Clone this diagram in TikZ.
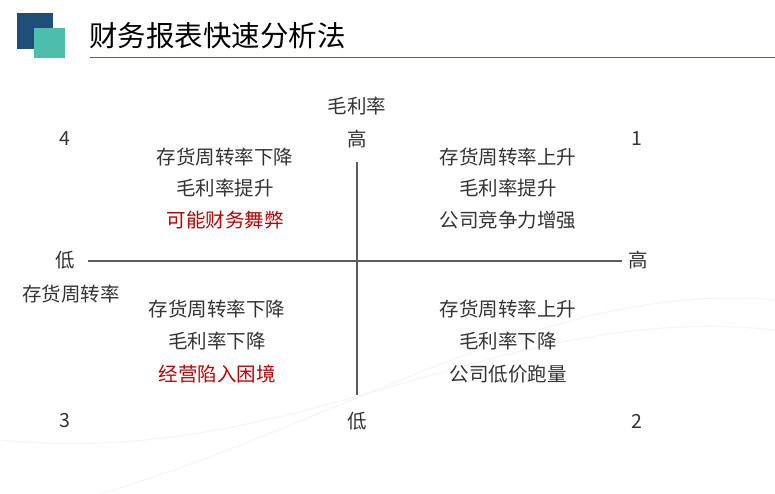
\documentclass[tikz,border=0pt]{standalone}
\usepackage{fontspec}
\newfontfamily\cjk{Noto Sans CJK SC}
\definecolor{dk}{HTML}{1F4E79}
\definecolor{tl}{HTML}{4DBDAC}
\definecolor{tx}{HTML}{333333}
\definecolor{rd}{HTML}{C00000}
\begin{document}
\begin{tikzpicture}[x=1pt,y=-1pt,
  lbl/.style={font=\cjk\fontsize{19.5}{22}\selectfont,text=tx,inner sep=0pt},
  red/.style={lbl,text=rd},
  ax/.style={draw=tx!80,line width=2pt}]
\useasboundingbox (0,0) rectangle (775,494);
\fill[white] (0,0) rectangle (775,494);
\fill[dk] (17,13) rectangle (53,49);
\fill[tl] (34,28) rectangle (65,58);
\node[anchor=west,inner sep=0pt,font=\cjk\fontsize{28.5}{30}\selectfont,text=black] (title) at (89,36) {财务报表快速分析法};
\draw[color=dk!50!gray,line width=1pt] (90,58) -- (775,58);
\draw[gray!8,line width=1pt] (0,440) .. controls (300,470) and (500,300) .. (775,330);
\draw[gray!8,line width=1pt] (100,494) .. controls (350,420) and (550,280) .. (775,300);
\coordinate (L) at (88,261); \coordinate (R) at (622,261);
\coordinate (T) at (357,162); \coordinate (B) at (357,395);
\draw[ax] (L) -- (R); \draw[ax] (T) -- (B);
\node[lbl] (ylab) at (357,106) {毛利率};
\node[lbl] (yhi) at (357,139) {高};
\node[lbl] (ylo) at (357,421) {低};
\node[lbl] (xlo) at (65,260) {低};
\node[lbl] (xlab) at (71,294) {存货周转率};
\node[lbl] (xhi) at (638,260) {高};
\node[lbl] (n4) at (65,139) {4};
\node[lbl] (n1) at (637,139) {1};
\node[lbl] (n3) at (65,421) {3};
\node[lbl] (n2) at (637,421) {2};
\node[lbl] (a1) at (225,157) {存货周转率下降};
\node[lbl] (a2) at (225,188) {毛利率提升};
\node[red] (a3) at (225,220) {可能财务舞弊};
\node[lbl] (b1) at (508,157) {存货周转率上升};
\node[lbl] (b2) at (508,188) {毛利率提升};
\node[lbl] (b3) at (508,220) {公司竞争力增强};
\node[lbl] (c1) at (217,309) {存货周转率下降};
\node[lbl] (c2) at (217,341) {毛利率下降};
\node[red] (c3) at (217,374) {经营陷入困境};
\node[lbl] (d1) at (508,309) {存货周转率上升};
\node[lbl] (d2) at (508,341) {毛利率下降};
\node[lbl] (d3) at (508,374) {公司低价跑量};
\end{tikzpicture}
\end{document}
